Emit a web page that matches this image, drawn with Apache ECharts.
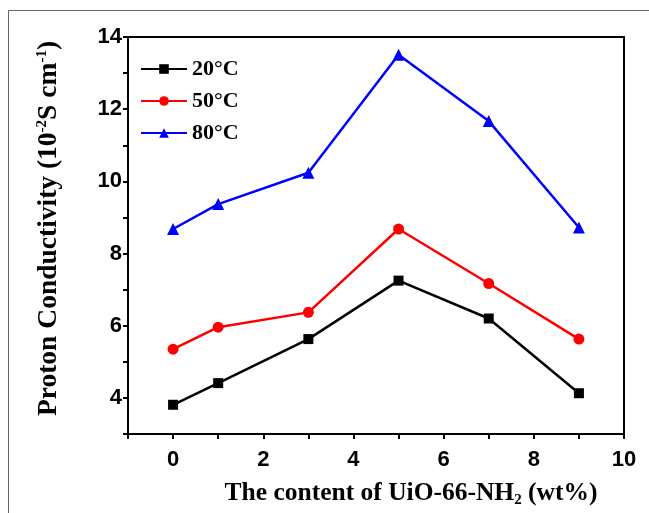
<!DOCTYPE html>
<html>
<head>
<meta charset="utf-8">
<script src="https://cdn.jsdelivr.net/npm/echarts@6/dist/echarts.min.js"></script>
<style>html,body{margin:0;padding:0;background:#fff}#c{width:649px;height:513px}</style>
</head>
<body>
<div id="c"></div>
<script>
var xValues = [0, 1, 3, 5, 7, 9];
var seriesNames = ['20\u00b0C', '50\u00b0C', '80\u00b0C'];
var s20 = [3.81, 4.41, 5.63, 7.25, 6.20, 4.13];
var s50 = [5.35, 5.96, 6.37, 8.68, 7.17, 5.63];
var s80 = [8.68, 9.37, 10.24, 13.51, 11.67, 8.72];
var xTickLabels = [0, 2, 4, 6, 8, 10];
var yTickLabels = [4, 6, 8, 10, 12, 14];

function pairs(v) { return xValues.map(function (x, i) { return [x, v[i]]; }); }

var chart = echarts.init(document.getElementById('c'), null, {renderer: 'canvas'});
var labelFont = {color: '#000', fontFamily: 'Liberation Sans, Arial', fontWeight: 'bold', fontSize: 22};
var serif = 'Liberation Serif, Times New Roman';

function mk(name, data, color, symbol, size) {
  return {
    name: name, type: 'line', data: pairs(data),
    symbol: symbol, symbolSize: size,
    lineStyle: {color: color, width: 2.5},
    itemStyle: {color: color},
    emphasis: {disabled: true},
    animation: false
  };
}

chart.setOption({
  animation: false,
  graphic: [{type: 'rect', shape: {x: 8.5, y: 10.5, width: 700, height: 600}, style: {fill: 'none', stroke: '#666', lineWidth: 1}, silent: true}],
  grid: {left: 128, top: 37, width: 496, height: 399},
  legend: {
    orient: 'vertical', left: 135, top: 53, itemWidth: 46, itemHeight: 12, itemGap: 10,
    data: seriesNames,
    textStyle: {fontFamily: serif, fontWeight: 'bold', fontSize: 22, color: '#000'}
  },
  xAxis: [{
    type: 'value', min: -1, max: 10, interval: 1,
    name: '{t|The content of UiO-66-NH}{s|2}{t| (wt%)}', nameLocation: 'middle', nameGap: 45,
    nameTextStyle: {padding: [0, 0, 0, 70], rich: {
      t: {fontFamily: serif, fontWeight: 'bold', fontSize: 25.5, color: '#000'},
      s: {fontFamily: serif, fontWeight: 'bold', fontSize: 15, color: '#000', verticalAlign: 'bottom', padding: [14, 0, 0, 0]}
    }},
    axisLine: {show: true, onZero: false, lineStyle: {color: '#000', width: 2}},
    axisTick: {show: true, inside: false, length: 5, lineStyle: {color: '#000', width: 2}},
    axisLabel: Object.assign({margin: 15, formatter: function (v) { return xTickLabels.indexOf(v) >= 0 ? String(v) : ''; }}, labelFont),
    splitLine: {show: false}
  }, {
    type: 'value', position: 'top', min: -1, max: 10, interval: 1,
    axisLine: {show: true, onZero: false, lineStyle: {color: '#000', width: 2}},
    axisTick: {show: false}, axisLabel: {show: false}, splitLine: {show: false}
  }],
  yAxis: [{
    type: 'value', min: 3, max: 14, interval: 1,
    name: '{t|Proton Conductivity (10}{u|-2}{t|S cm}{u|-1}{t|)}', nameLocation: 'middle', nameGap: 65,
    nameTextStyle: {padding: [0, 0, 0, 14], rich: {
      t: {fontFamily: serif, fontWeight: 'bold', fontSize: 27.5, color: '#000'},
      u: {fontFamily: serif, fontWeight: 'bold', fontSize: 15, color: '#000', verticalAlign: 'top', padding: [0, 0, 12, 0]}
    }},
    axisLine: {show: true, onZero: false, lineStyle: {color: '#000', width: 2}},
    axisTick: {show: true, inside: false, length: 5, lineStyle: {color: '#000', width: 2}},
    axisLabel: Object.assign({margin: 6, formatter: function (v) { return yTickLabels.indexOf(v) >= 0 ? String(v) : ''; }}, labelFont),
    splitLine: {show: false}
  }, {
    type: 'value', position: 'right', min: 3, max: 14, interval: 1,
    axisLine: {show: true, onZero: false, lineStyle: {color: '#000', width: 2}},
    axisTick: {show: false}, axisLabel: {show: false}, splitLine: {show: false}
  }],
  series: [
    mk(seriesNames[0], s20, '#000000', 'rect', 10),
    mk(seriesNames[1], s50, '#ff0000', 'circle', 11),
    mk(seriesNames[2], s80, '#0000ff', 'triangle', 12)
  ]
});
</script>
</body>
</html>
